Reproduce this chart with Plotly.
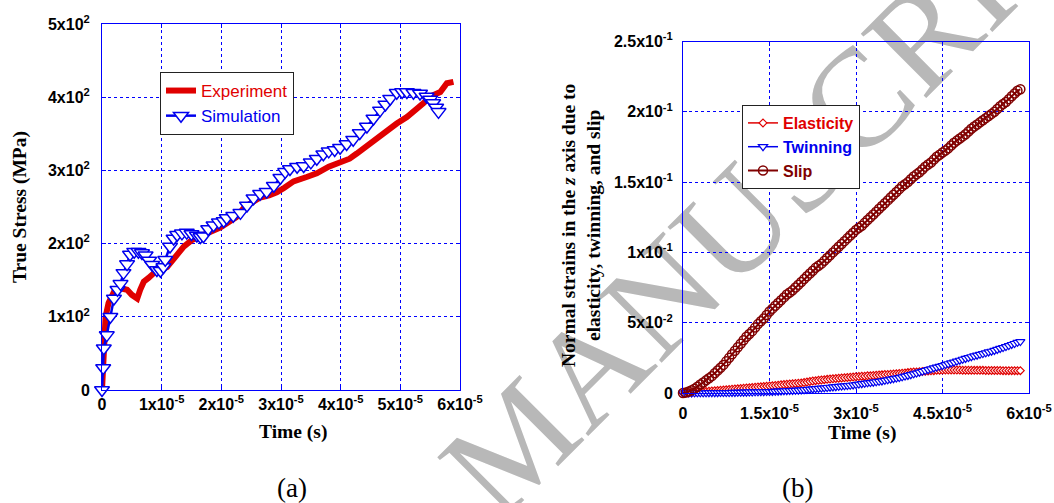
import plotly.graph_objects as go

# ---------------- (a) True stress vs time ----------------
# time values are in units of 1e-5 s
exp_time = [0, 0.02, 0.04, 0.06, 0.11, 0.2, 0.31, 0.42, 0.5, 0.59, 0.64, 0.7, 0.78, 0.86,
            0.98, 1.09, 1.23, 1.37, 1.51, 1.65, 1.81, 1.98, 2.09, 2.25, 2.39, 2.5, 2.65,
            2.8, 2.93, 3.05, 3.21, 3.43, 3.6, 3.8, 3.99, 4.15, 4.27, 4.49, 4.6, 4.72, 4.85,
            4.94, 5.11, 5.28, 5.39, 5.5, 5.67, 5.78, 5.89]
exp_stress = [0, 40, 80, 100, 119, 134, 139, 137, 130, 125, 137, 148, 153, 159,
              164, 168, 182, 196, 205, 211, 216, 222, 228, 236, 250, 256, 263,
              266, 270, 276, 285, 291, 296, 305, 311, 316, 323, 337, 344, 351, 358,
              364, 373, 383, 392, 401, 407, 419, 421]

sim_time = [0, 0.02, 0.03, 0.08, 0.14, 0.2, 0.26, 0.31, 0.36, 0.42, 0.47, 0.54, 0.61, 0.67,
            0.73, 0.79, 0.84, 0.92, 0.98, 1.03, 1.06, 1.14, 1.2, 1.26, 1.34, 1.42, 1.5,
            1.59, 1.65, 1.7, 1.78, 1.87, 1.96, 2.04, 2.09, 2.2, 2.32, 2.43, 2.54, 2.65,
            2.76, 2.88, 2.99, 3.07, 3.15, 3.27, 3.38, 3.5, 3.6, 3.71, 3.8, 3.9, 3.99,
            4.1, 4.21, 4.32, 4.44, 4.55, 4.66, 4.75, 4.83, 4.94, 5.03, 5.11, 5.22, 5.33,
            5.44, 5.5, 5.55, 5.6, 5.64]
sim_stress = [0, 30, 57, 75, 100, 125, 137, 145, 160, 172, 185, 189, 189, 187,
              184, 177, 171, 164, 163, 168, 178, 196, 207, 212, 214, 215, 213,
              211, 209, 210, 220, 225, 229, 231, 235, 238, 242, 252, 262, 268,
              271, 279, 290, 298, 302, 305, 306, 311, 316, 322, 326, 328, 331,
              336, 342, 351, 360, 371, 382, 390, 398, 406, 407, 407, 406, 405,
              401, 397, 392, 386, 380]

a_xticks = [0, 1, 2, 3, 4, 5, 6]
a_xticktext = ["0", "1x10<sup>-5</sup>", "2x10<sup>-5</sup>", "3x10<sup>-5</sup>",
               "4x10<sup>-5</sup>", "5x10<sup>-5</sup>", "6x10<sup>-5</sup>"]
a_yticks = [0, 100, 200, 300, 400, 500]
a_yticktext = ["0", "1x10<sup>2</sup>", "2x10<sup>2</sup>", "3x10<sup>2</sup>",
               "4x10<sup>2</sup>", "5x10<sup>2</sup>"]

# ---------------- (b) strain components vs time ----------------
strain_time = [0, 0.05, 0.1, 0.15, 0.2, 0.25, 0.3, 0.35, 0.4, 0.45, 0.5, 0.55, 0.6, 0.65,
               0.7, 0.75, 0.8, 0.85, 0.9, 0.95, 1.0, 1.05, 1.1, 1.15, 1.2, 1.25, 1.3, 1.35,
               1.4, 1.45, 1.5, 1.55, 1.6, 1.65, 1.7, 1.75, 1.8, 1.85, 1.9, 1.95, 2.0, 2.05,
               2.1, 2.15, 2.2, 2.25, 2.3, 2.35, 2.4, 2.45, 2.5, 2.55, 2.6, 2.65, 2.7, 2.75,
               2.8, 2.85, 2.9, 2.95, 3.0, 3.05, 3.1, 3.15, 3.2, 3.25, 3.3, 3.35, 3.4, 3.45,
               3.5, 3.55, 3.6, 3.65, 3.7, 3.75, 3.8, 3.85, 3.9, 3.95, 4.0, 4.05, 4.1, 4.15,
               4.2, 4.25, 4.3, 4.35, 4.4, 4.45, 4.5, 4.55, 4.6, 4.65, 4.7, 4.75, 4.8, 4.85,
               4.9, 4.95, 5.0, 5.05, 5.1, 5.15, 5.2, 5.25, 5.3, 5.35, 5.4, 5.45, 5.5, 5.55,
               5.6, 5.65, 5.7, 5.75, 5.8, 5.85]
elasticity = [0, 0.0001, 0.0002, 0.0003, 0.0004, 0.0005, 0.0007, 0.0008, 0.001, 0.0012,
              0.0014, 0.0016, 0.0018, 0.0019, 0.0021, 0.0023, 0.0025, 0.0027, 0.0029, 0.003,
              0.0032, 0.0034, 0.0036, 0.0037, 0.0039, 0.0041, 0.0043, 0.0044, 0.0046, 0.0048,
              0.005, 0.0052, 0.0054, 0.0056, 0.0058, 0.006, 0.0062, 0.0064, 0.0066, 0.0068,
              0.007, 0.0072, 0.0075, 0.0078, 0.0082, 0.0085, 0.0088, 0.009, 0.0093, 0.0095,
              0.0097, 0.0099, 0.0101, 0.0103, 0.0105, 0.0107, 0.0109, 0.011, 0.0112, 0.0114,
              0.0116, 0.0117, 0.0119, 0.012, 0.0122, 0.0123, 0.0125, 0.0126, 0.0128, 0.0129,
              0.0131, 0.0132, 0.0134, 0.0135, 0.0137, 0.0139, 0.0141, 0.0143, 0.0145, 0.0147,
              0.0149, 0.015, 0.0152, 0.0153, 0.0155, 0.0156, 0.0158, 0.0159, 0.0161, 0.0162,
              0.0163, 0.0164, 0.0164, 0.0164, 0.0164, 0.0163, 0.0163, 0.0162, 0.0162, 0.0162,
              0.0162, 0.0161, 0.0161, 0.0161, 0.0161, 0.016, 0.016, 0.016, 0.016, 0.016,
              0.016, 0.0159, 0.0159, 0.0159, 0.0159, 0.0159, 0.0159, 0.0159]
twinning = [0, 0, 0, 0, 0.0001, 0.0001, 0.0001, 0.0001, 0.0001, 0.0002,
            0.0002, 0.0002, 0.0002, 0.0003, 0.0003, 0.0003, 0.0003, 0.0004, 0.0004, 0.0005,
            0.0005, 0.0006, 0.0006, 0.0007, 0.0007, 0.0008, 0.0008, 0.0009, 0.0009, 0.001,
            0.001, 0.0011, 0.0012, 0.0013, 0.0014, 0.0015, 0.0016, 0.0017, 0.0018, 0.0019,
            0.002, 0.0022, 0.0023, 0.0025, 0.0027, 0.0029, 0.0031, 0.0033, 0.0035, 0.0037,
            0.0039, 0.0041, 0.0043, 0.0045, 0.0047, 0.0049, 0.0051, 0.0053, 0.0055, 0.0057,
            0.006, 0.0063, 0.0066, 0.0069, 0.0072, 0.0074, 0.0077, 0.008, 0.0083, 0.0086,
            0.009, 0.0094, 0.0098, 0.0102, 0.0106, 0.011, 0.0115, 0.012, 0.0125, 0.013,
            0.0136, 0.0142, 0.0148, 0.0154, 0.016, 0.0166, 0.0172, 0.0178, 0.0184, 0.019,
            0.0195, 0.0202, 0.0208, 0.0214, 0.022, 0.0227, 0.0233, 0.024, 0.0246, 0.0252,
            0.0258, 0.0264, 0.0269, 0.0275, 0.028, 0.0286, 0.0292, 0.0297, 0.0303, 0.031,
            0.0317, 0.0323, 0.033, 0.0337, 0.0345, 0.0352, 0.036, 0.0366]
slip = [0, 0.0003, 0.001, 0.002, 0.003, 0.0045, 0.006, 0.0075, 0.009, 0.0105,
        0.012, 0.014, 0.016, 0.018, 0.02, 0.0225, 0.025, 0.0275, 0.03, 0.0325,
        0.035, 0.0375, 0.04, 0.042, 0.044, 0.0465, 0.049, 0.051, 0.053, 0.0555,
        0.058, 0.06, 0.062, 0.064, 0.066, 0.068, 0.07, 0.0715, 0.073, 0.075,
        0.077, 0.079, 0.081, 0.083, 0.085, 0.087, 0.089, 0.0905, 0.092, 0.094,
        0.096, 0.098, 0.1, 0.102, 0.104, 0.106, 0.108, 0.11, 0.112, 0.114,
        0.116, 0.1175, 0.119, 0.121, 0.123, 0.125, 0.127, 0.129, 0.131, 0.133,
        0.135, 0.137, 0.139, 0.141, 0.143, 0.145, 0.147, 0.1485, 0.15, 0.152,
        0.154, 0.1555, 0.157, 0.159, 0.161, 0.1625, 0.164, 0.166, 0.168, 0.1695,
        0.171, 0.1725, 0.174, 0.176, 0.178, 0.1795, 0.181, 0.1825, 0.184, 0.186,
        0.188, 0.1895, 0.191, 0.1925, 0.194, 0.1955, 0.197, 0.1985, 0.2, 0.202,
        0.204, 0.2055, 0.207, 0.209, 0.211, 0.213, 0.215, 0.216]

b_xticks = [0, 1.5, 3, 4.5, 6]
b_xticktext = ["0", "1.5x10<sup>-5</sup>", "3x10<sup>-5</sup>", "4.5x10<sup>-5</sup>",
               "6x10<sup>-5</sup>"]
b_yticks = [0, 0.05, 0.1, 0.15, 0.2, 0.25]
b_yticktext = ["0", "5x10<sup>-2</sup>", "1x10<sup>-1</sup>", "1.5x10<sup>-1</sup>",
               "2x10<sup>-1</sup>", "2.5x10<sup>-1</sup>"]

RED = "#e00000"
BLUE = "#0000ee"
DARKRED = "#800000"
W, H = 1054, 503

fig = go.Figure()

fig.add_trace(go.Scatter(
    x=exp_time, y=exp_stress, mode="lines", name=f"<span style='color:{RED}'>Experiment</span>",
    line=dict(color=RED, width=6), xaxis="x", yaxis="y", legend="legend", cliponaxis=False))
fig.add_trace(go.Scatter(
    x=sim_time, y=sim_stress, mode="lines+markers",
    name=f"<span style='color:{BLUE}'>Simulation</span>",
    line=dict(color=BLUE, width=2.5),
    marker=dict(symbol="triangle-down", size=13, color="white", line=dict(color=BLUE, width=1.5)),
    xaxis="x", yaxis="y", legend="legend", cliponaxis=False))

fig.add_trace(go.Scatter(
    x=strain_time, y=elasticity, mode="lines+markers",
    name=f"<span style='color:{RED}'>Elasticity</span>",
    line=dict(color=RED, width=1.5),
    marker=dict(symbol="diamond", size=6, color="white", line=dict(color=RED, width=1.2)),
    xaxis="x2", yaxis="y2", legend="legend2", cliponaxis=False))
fig.add_trace(go.Scatter(
    x=strain_time, y=twinning, mode="lines+markers",
    name=f"<span style='color:{BLUE}'>Twinning</span>",
    line=dict(color=BLUE, width=1.5),
    marker=dict(symbol="triangle-down", size=8, color="white", line=dict(color=BLUE, width=1.2)),
    xaxis="x2", yaxis="y2", legend="legend2", cliponaxis=False))
fig.add_trace(go.Scatter(
    x=strain_time, y=slip, mode="lines+markers",
    name=f"<span style='color:{DARKRED}'>Slip</span>",
    line=dict(color=DARKRED, width=2),
    marker=dict(symbol="circle-open", size=9, color=DARKRED, line=dict(width=1.5)),
    xaxis="x2", yaxis="y2", legend="legend2", cliponaxis=False))

tickfont = dict(family="Liberation Sans, Arial", size=16, color="black", weight="bold")
axis_common = dict(showline=True, linecolor="#0000ff", linewidth=1, mirror="ticks",
                   showgrid=True, gridcolor="#0000ff", gridwidth=1, griddash="dot",
                   zeroline=False, ticks="inside", ticklen=4, tickcolor="#0000ff",
                   tickfont=tickfont, automargin=False, fixedrange=True)

fig.update_layout(
    width=W, height=H,
    margin=dict(l=0, r=0, t=0, b=0),
    paper_bgcolor="white", plot_bgcolor="white",
    xaxis=dict(domain=[102 / W, 460 / W], range=[0, 6], anchor="y",
               tickvals=a_xticks, ticktext=a_xticktext, ticklabelstandoff=0, **axis_common),
    yaxis=dict(domain=[1 - 390 / H, 1 - 24 / H], range=[0, 500], anchor="x",
               tickvals=a_yticks, ticktext=a_yticktext, ticklabelstandoff=8, **axis_common),
    xaxis2=dict(domain=[683 / W, 1029 / W], range=[0, 6], anchor="y2",
                tickvals=b_xticks, ticktext=b_xticktext, ticklabelstandoff=6, **axis_common),
    yaxis2=dict(domain=[1 - 393 / H, 1 - 41.5 / H], range=[0, 0.25], anchor="x2",
                tickvals=b_yticks, ticktext=b_yticktext, ticklabelstandoff=6, **axis_common),
    legend=dict(x=160 / W, y=1 - 72 / H, xanchor="left", yanchor="top",
                bgcolor="white", bordercolor="#222222", borderwidth=1,
                font=dict(family="Liberation Sans, Arial", size=17, color="black")),
    legend2=dict(x=742 / W, y=1 - 105 / H, xanchor="left", yanchor="top",
                 bgcolor="white", bordercolor="#222222", borderwidth=1,
                 font=dict(family="Liberation Sans, Arial", size=16, color="black",
                           weight="bold")),
    showlegend=True,
)

# faint diagonal watermark across the page, kept beneath the data
cx, cy, half = 506, 430, 100
fig.add_shape(
    type="line", xref="paper", yref="paper", layer="below",
    x0=(cx - half) / W, y0=1 - (cy + half) / H, x1=(cx + half) / W, y1=1 - (cy - half) / H,
    line=dict(width=0, color="rgba(0,0,0,0)"),
    label=dict(text="ACCEPTED MANUSCRIPT", textposition="middle", yanchor="middle",
               padding=0,
               font=dict(family="Liberation Serif, Times New Roman", size=140, color="#b8b8b8")))

serif = "Liberation Serif, Times New Roman"
title_font = dict(family=serif, size=19.5, color="black")


def px_note(text, x, y, font, angle=0):
    fig.add_annotation(text=text, x=x / W, y=1 - y / H, xref="paper", yref="paper",
                       showarrow=False, xanchor="center", yanchor="middle",
                       textangle=angle, font=font)


px_note("<b>True Stress (MPa)</b>", 20, 207, title_font, angle=-90)
px_note("<b>Time (s)</b>", 293, 432, title_font)
px_note("<b>Time (s)</b>", 862, 433, title_font)
px_note("<b>Normal strains in the <i>z</i> axis due to<br>elasticity, twinning, and slip</b>",
        581, 226, title_font, angle=-90)
px_note("(a)", 292, 488, dict(family=serif, size=27, color="black"))
px_note("(b)", 797, 488, dict(family=serif, size=27, color="black"))

fig.write_html("out.html")
